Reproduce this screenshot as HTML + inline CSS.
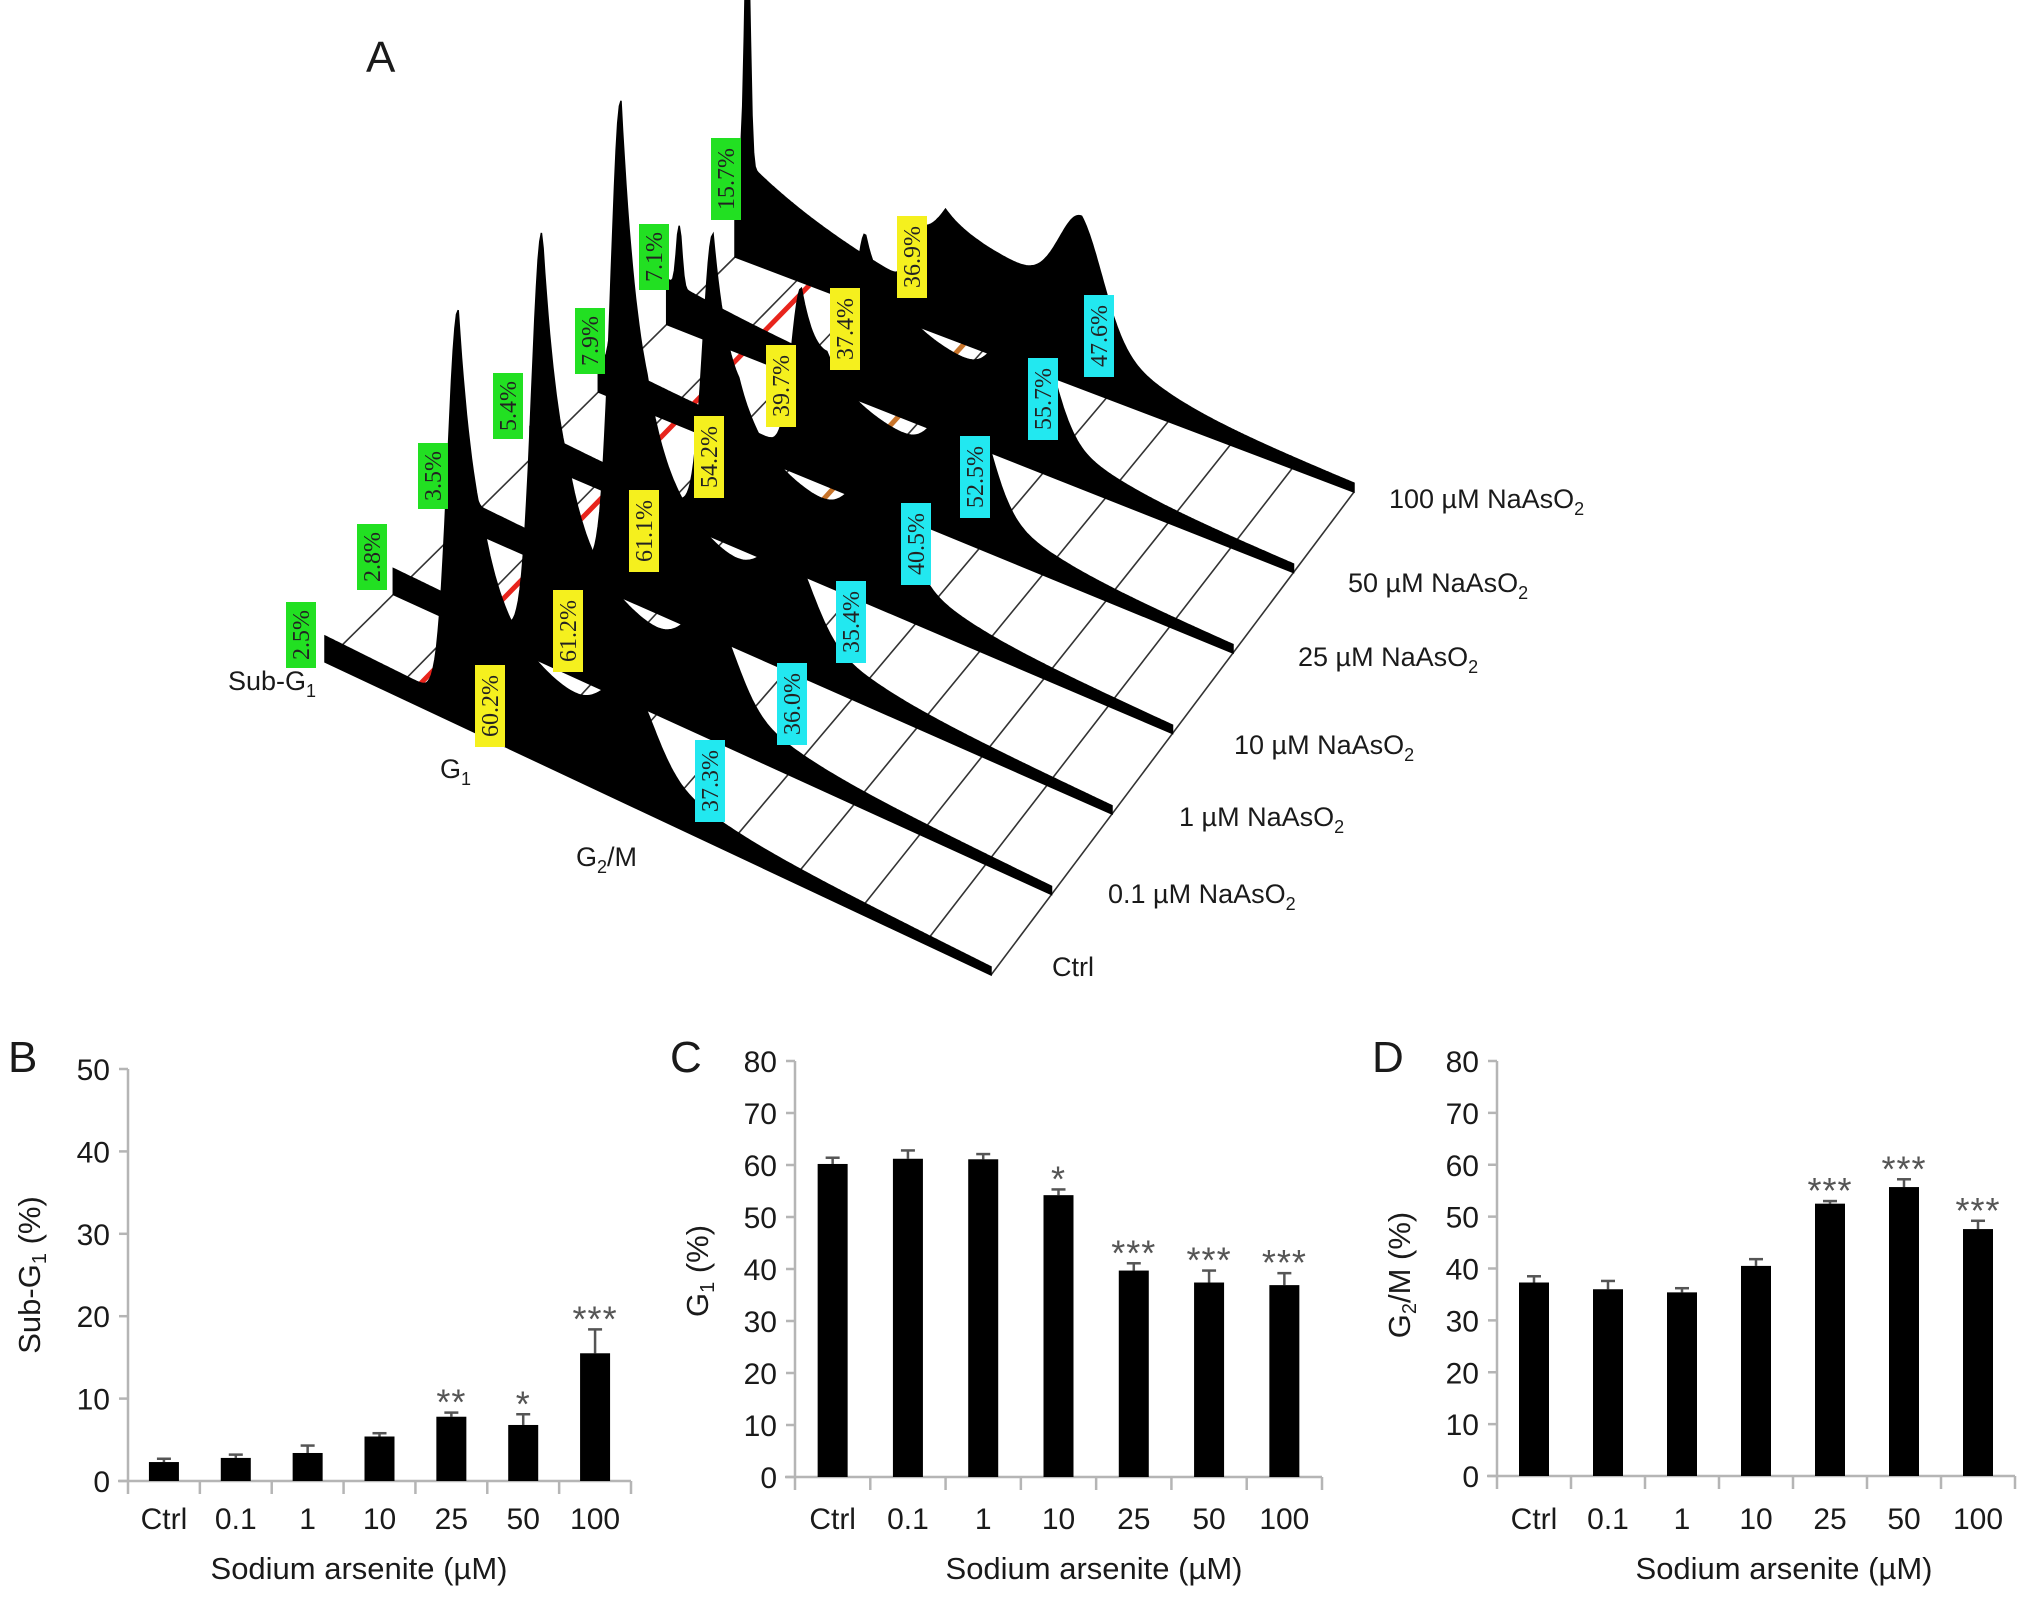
<!DOCTYPE html>
<html><head><meta charset="utf-8">
<style>
html,body{margin:0;padding:0;background:#fff;}
svg{display:block;}
text{font-family:"Liberation Sans",sans-serif;fill:#1a1a1a;}
.pct{font-family:"Liberation Serif",serif;font-size:24px;fill:#222;}
</style></head>
<body>
<svg id="fig" width="2032" height="1599" viewBox="0 0 2032 1599" xmlns="http://www.w3.org/2000/svg">
<rect x="0" y="0" width="2032" height="1599" fill="#fff"/>
<g id="panelA"></g>
<g id="panelB"></g>
<g id="panelC"></g>
<g id="panelD"></g>
</svg>
<script>
// ---------- Panel B/C/D data ----------
const categories = ["Ctrl","0.1","1","10","25","50","100"];
const subG1Values = [2.3, 2.8, 3.4, 5.4, 7.8, 6.8, 15.5];
const subG1Errors = [0.4, 0.4, 0.9, 0.4, 0.5, 1.3, 2.9];
const subG1Stars = ["","","","","**","*","***"];
const g1Values = [60.2, 61.2, 61.1, 54.2, 39.7, 37.4, 36.9];
const g1Errors = [1.2, 1.6, 1.0, 1.1, 1.4, 2.3, 2.3];
const g1Stars = ["","","","*","***","***","***"];
const g2mValues = [37.3, 36.0, 35.4, 40.5, 52.5, 55.7, 47.6];
const g2mErrors = [1.2, 1.6, 0.8, 1.3, 0.5, 1.5, 1.6];
const g2mStars = ["","","","","***","***","***"];
const subG1Ticks = [0,10,20,30,40,50];
const g1Ticks = [0,10,20,30,40,50,60,70,80];
const g2mTicks = [0,10,20,30,40,50,60,70,80];

// ---------- Panel A data ----------
const rowLabels = ["Ctrl","0.1 µM NaAsO","1 µM NaAsO","10 µM NaAsO","25 µM NaAsO","50 µM NaAsO","100 µM NaAsO"];
const subG1Pct = ["2.5%","2.8%","3.5%","5.4%","7.9%","7.1%","15.7%"];
const g1Pct = ["60.2%","61.2%","61.1%","54.2%","39.7%","37.4%","36.9%"];
const g2mPct = ["37.3%","36.0%","35.4%","40.5%","52.5%","55.7%","47.6%"];
const g1PeakHeight = [392, 408, 474, 281, 165, 145, 65];
const g1PeakPos = [0.20, 0.226, 0.245, 0.285, 0.32, 0.317, 0.30];
const subPeakHeight = [0, 0, 10, 20, 30, 60, 246];
const g2HumpHeight = [55, 60, 55, 70, 90, 100, 80];
const sPhaseHeight = [45, 45, 45, 50, 55, 55, 70];

const NS = "http://www.w3.org/2000/svg";
function mk(tag, attrs, parent){
  const e = document.createElementNS(NS, tag);
  for (const k in attrs) e.setAttribute(k, attrs[k]);
  parent.appendChild(e);
  return e;
}

// ---------- Bar charts ----------
function barChart(gId, cfg, vals, errs, stars, ticks){
  const g = document.getElementById(gId);
  const n = categories.length;
  const band = (cfg.x1 - cfg.x0)/n;
  const ys = v => cfg.y0 - (v/cfg.max)*(cfg.y0 - cfg.yTop);
  const xc = i => cfg.x0 + band*(i+0.5);
  const ya = mk("line",{x1:cfg.x0,y1:cfg.yTop,x2:cfg.x0,y2:cfg.y0,stroke:"#b5b5b5","stroke-width":2.5},g);
  
  
  const xa = mk("line",{x1:cfg.x0-10,y1:cfg.y0,x2:cfg.x1,y2:cfg.y0,stroke:"#b5b5b5","stroke-width":2.5},g);
  
  
  ticks.forEach(t=>{
    const y = ys(t);
    const tk = mk("line",{x1:cfg.x0-9,y1:y,x2:cfg.x0,y2:y,stroke:"#b5b5b5","stroke-width":2.5},g);
    
    
    const tl = mk("text",{x:cfg.x0-18,y:y+11,"text-anchor":"end","font-size":30},g);
    tl.textContent = t;
    
    
  });
  for (let i=0;i<=n;i++){
    const x = cfg.x0 + band*i;
    const tk = mk("line",{x1:x,y1:cfg.y0,x2:x,y2:cfg.y0+13,stroke:"#b5b5b5","stroke-width":2.5},g);
    
    
  }
  vals.forEach((v,i)=>{
    const x = xc(i), w = 30;
    const top = ys(v), etop = ys(v+errs[i]);
    const el = mk("line",{x1:x,y1:top,x2:x,y2:etop,stroke:"#555","stroke-width":2.5},g);
    
    
    const cap = mk("line",{x1:x-7,y1:etop,x2:x+7,y2:etop,stroke:"#555","stroke-width":2.5},g);
    
    
    const r = mk("rect",{x:x-w/2,y:top,width:w,height:cfg.y0-top,fill:"#000"},g);
    
    
    if (stars[i]){
      const st = mk("text",{x:x,y:etop+2,"text-anchor":"middle","font-size":36,"letter-spacing":"1"},g);
      st.style.fill="#555";
      st.textContent = stars[i];
      
      
    }
    const xl = mk("text",{x:x,y:1529,"text-anchor":"middle","font-size":30},g);
    xl.textContent = categories[i];
    
    
  });
  const xt = mk("text",{x:cfg.titleX,y:1579,"text-anchor":"middle","font-size":31},g);
  xt.textContent = "Sodium arsenite (µM)";
  
  
  const yt = mk("text",{x:0,y:0,"text-anchor":"middle","font-size":31,transform:`translate(${cfg.ytX},${cfg.ytY}) rotate(-90)`},g);
  yt.innerHTML = cfg.ytHTML;
  
  
  const lt = mk("text",{x:cfg.letterX,y:1072,"font-size":44},g);
  lt.textContent = cfg.letter;
  
  
}

barChart("panelB",{x0:128,x1:631,yTop:1069,y0:1481,max:50,titleX:359,ytX:40,ytY:1275,letter:"B",letterX:8,
  ytHTML:'Sub-G<tspan font-size="20" dy="6">1</tspan><tspan dy="-6"> (%)</tspan>'}, subG1Values, subG1Errors, subG1Stars, subG1Ticks);
barChart("panelC",{x0:795,x1:1322,yTop:1061,y0:1477,max:80,titleX:1094,ytX:708,ytY:1271,letter:"C",letterX:670,
  ytHTML:'G<tspan font-size="20" dy="6">1</tspan><tspan dy="-6"> (%)</tspan>'}, g1Values, g1Errors, g1Stars, g1Ticks);
barChart("panelD",{x0:1497,x1:2015,yTop:1061,y0:1476,max:80,titleX:1784,ytX:1410,ytY:1275,letter:"D",letterX:1372,
  ytHTML:'G<tspan font-size="20" dy="6">2</tspan><tspan dy="-6">/M (%)</tspan>'}, g2mValues, g2mErrors, g2mStars, g2mTicks);

// ---------- Panel A ----------
(function(){
  const g = document.getElementById("panelA");
  const S0 = [325,662], E0 = [991,975], S6 = [735,257], E6 = [1354,492];
  const nr = rowLabels.length;
  const rowStart = r => [S0[0]+(S6[0]-S0[0])*r/(nr-1), S0[1]+(S6[1]-S0[1])*r/(nr-1)];
  const rowEnd = r => [E0[0]+(E6[0]-E0[0])*r/(nr-1), E0[1]+(E6[1]-E0[1])*r/(nr-1)];
  const pt = (r,t) => { const s=rowStart(r), e=rowEnd(r); return [s[0]+(e[0]-s[0])*t, s[1]+(e[1]-s[1])*t]; };

  for (let k=0;k<=10;k++){
    const t=k/10, a=pt(0,t), b=pt(nr-1,t);
    const l = mk("line",{x1:a[0],y1:a[1],x2:b[0],y2:b[1],stroke:"#333","stroke-width":1.6},g);
    
    
  }
  [[0.12,"#e8241c"],[0.37,"#c8742a"]].forEach(([t,c],gi)=>{
    const a=pt(0,t), b=pt(nr-1,t);
    const l = mk("line",{x1:a[0],y1:a[1],x2:b[0],y2:b[1],stroke:c,"stroke-width":5},g);
    
    
  });

  function h(r,t){
    let v = 18*(1-t)+8;
    const sp = subPeakHeight[r];
    if (sp>0){ v += sp*Math.exp(-Math.pow((t-0.02)/0.006,2)); v += sp*0.3*Math.exp(-(t-0.02)/0.2); }
    const p = g1PeakPos[r], A = g1PeakHeight[r];
    if (t<p) v += A*Math.exp(-Math.pow((t-p)/0.022,2));
    else v += A*(0.8*Math.exp(-(t-p)/0.03) + 0.2*Math.exp(-(t-p)/0.12));
    const g2c = p+0.26;
    if (t>p && t<g2c) v += sPhaseHeight[r]*Math.min(1,(t-p)/0.04);
    else if (t>=g2c) v += sPhaseHeight[r]*Math.exp(-(t-g2c)/0.08);
    v += g2HumpHeight[r]*Math.exp(-Math.pow((t-g2c)/0.05,2));
    return v;
  }
  for (let r=nr-1;r>=0;r--){
    const s = pt(r,0);
    let d = `M${s[0].toFixed(1)},${s[1].toFixed(1)}`;
    for (let i=0;i<=400;i++){
      const t=i/400, b=pt(r,t), hv=h(r,t);
      d += `L${b[0].toFixed(1)},${(b[1]-hv).toFixed(1)}`;
    }
    const e = pt(r,1);
    d += `L${e[0].toFixed(1)},${e[1].toFixed(1)}Z`;
    const p = mk("path",{d:d,fill:"#000",stroke:"#000","stroke-width":1.5},g);
    
    
  }
})();
</script>
<svg style="position:absolute;left:0;top:0" width="2032" height="1000" xmlns="http://www.w3.org/2000/svg">
  <text x="366" y="72" font-size="44">A</text>
  <g font-size="27">
    <text x="1389" y="508">100 µM NaAsO<tspan font-size="18" dy="7">2</tspan></text>
    <text x="1348" y="592">50 µM NaAsO<tspan font-size="18" dy="7">2</tspan></text>
    <text x="1298" y="666">25 µM NaAsO<tspan font-size="18" dy="7">2</tspan></text>
    <text x="1234" y="754">10 µM NaAsO<tspan font-size="18" dy="7">2</tspan></text>
    <text x="1179" y="826">1 µM NaAsO<tspan font-size="18" dy="7">2</tspan></text>
    <text x="1108" y="903">0.1 µM NaAsO<tspan font-size="18" dy="7">2</tspan></text>
    <text x="1052" y="976">Ctrl</text>
    <text x="228" y="690">Sub-G<tspan font-size="18" dy="7">1</tspan></text>
    <text x="440" y="778">G<tspan font-size="18" dy="7">1</tspan></text>
    <text x="576" y="866">G<tspan font-size="18" dy="7">2</tspan><tspan dy="-7">/M</tspan></text>
  </g>
  <g id="pctLabels"></g>
</svg>
<script>
(function(){
  const g = document.getElementById("pctLabels");
  const subPos = [[301,635],[372,557],[433,476],[508,406],[590,341],[654,257],[726,179]];
  const g1Pos = [[490,706],[568,631],[644,531],[709,457],[781,386],[845,329],[912,257]];
  const g2Pos = [[710,781],[792,704],[851,622],[916,544],[975,477],[1043,399],[1099,336]];
  const sets = [[subG1Pct,subPos,"#22e022","subg1"],[g1Pct,g1Pos,"#f5f01e","g1"],[g2mPct,g2Pos,"#22e8f0","g2m"]];
  sets.forEach(([labels,pos,col,nm])=>{
    labels.forEach((txt,i)=>{
      const [cx,cy] = pos[i];
      const hgt = txt.length>4 ? 82 : 66;
      const r = document.createElementNS("http://www.w3.org/2000/svg","rect");
      r.setAttribute("x",cx-15); r.setAttribute("y",cy-hgt/2);
      r.setAttribute("width",30); r.setAttribute("height",hgt); r.setAttribute("fill",col);
      
      
      g.appendChild(r);
      const t = document.createElementNS("http://www.w3.org/2000/svg","text");
      t.setAttribute("class","pct");
      t.setAttribute("text-anchor","middle");
      t.setAttribute("transform",`translate(${cx+8},${cy}) rotate(-90)`);
      t.textContent = txt;
      
      
      g.appendChild(t);
    });
  });
})();
</script>
</body></html>
